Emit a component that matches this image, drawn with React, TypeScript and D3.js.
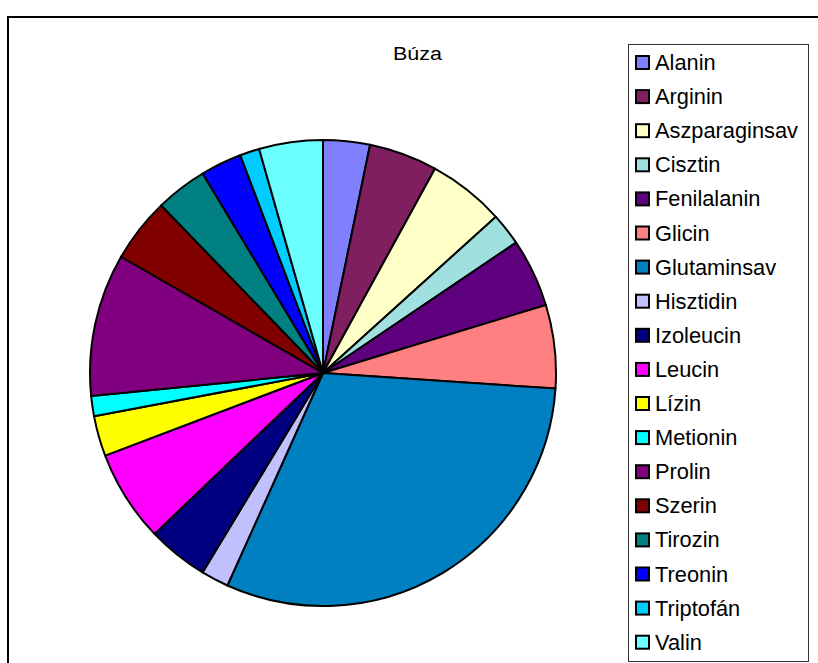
import { useEffect, useRef } from 'react';
import * as d3 from 'd3';

const title = 'Búza';

const categories = [
  'Alanin', 'Arginin', 'Aszparaginsav', 'Cisztin', 'Fenilalanin', 'Glicin',
  'Glutaminsav', 'Hisztidin', 'Izoleucin', 'Leucin', 'Lízin', 'Metionin',
  'Prolin', 'Szerin', 'Tirozin', 'Treonin', 'Triptofán', 'Valin',
];

// share of the wheat protein
const values = [
  3.24, 4.74, 5.33, 2.24, 4.74, 5.78,
  30.67, 1.92, 4.22, 6.36, 2.81, 1.39,
  9.89, 4.47, 3.58, 2.86, 1.36, 4.42,
];

const colors = [
  '#8080ff', '#7f1f5f', '#ffffc8', '#a0e0e0', '#5f007f', '#ff8080',
  '#0080c0', '#c0c0ff', '#000080', '#ff00ff', '#ffff00', '#00ffff',
  '#800080', '#800000', '#008080', '#0000ff', '#00ccff', '#6cffff',
];

export default function App() {
  const svgRef = useRef<SVGSVGElement>(null);

  useEffect(() => {
    if (!svgRef.current) return;
    const svg = d3.select(svgRef.current);
    svg.selectAll('*').remove();

    const width = 818;
    const height = 663;
    const cx = 323;
    const cy = 373;
    const radius = 233;

    // outer chart frame
    svg.append('rect')
      .attr('x', 8)
      .attr('y', 17)
      .attr('width', width)
      .attr('height', height)
      .attr('fill', 'none')
      .attr('stroke', '#000')
      .attr('stroke-width', 2);

    svg.append('text')
      .attr('x', 417.5)
      .attr('y', 59.5)
      .attr('text-anchor', 'middle')
      .attr('font-family', 'Liberation Sans, Arial, sans-serif')
      .attr('font-size', 18)
      .attr('textLength', 49)
      .attr('lengthAdjust', 'spacingAndGlyphs')
      .text(title);

    const data = categories.map((name, i) => ({ name, value: values[i], color: colors[i] }));

    const pie = d3.pie<{ name: string; value: number; color: string }>()
      .sort(null)
      .value((d) => d.value);

    const arc = d3.arc<d3.PieArcDatum<{ name: string; value: number; color: string }>>()
      .innerRadius(0)
      .outerRadius(radius);

    const g = svg.append('g').attr('transform', `translate(${cx},${cy})`);

    g.selectAll('path')
      .data(pie(data))
      .join('path')
      .attr('d', arc)
      .attr('fill', (d) => d.data.color)
      .attr('stroke', '#000')
      .attr('stroke-width', 2)
      .attr('stroke-linejoin', 'round');

    // legend
    const legendX = 628;
    const legendY = 44;
    const legendW = 180;
    const legendH = 617;
    const row = d3.scaleLinear().domain([0, 1]).range([62.5, 96.6]);

    svg.append('rect')
      .attr('x', legendX + 0.5)
      .attr('y', legendY + 0.5)
      .attr('width', legendW)
      .attr('height', legendH)
      .attr('fill', '#fff')
      .attr('stroke', '#333')
      .attr('stroke-width', 1);

    const items = svg.append('g')
      .selectAll('g')
      .data(data)
      .join('g')
      .attr('transform', (_, i) => `translate(0,${row(i)})`);

    items.append('rect')
      .attr('x', 636)
      .attr('y', -6.5)
      .attr('width', 13)
      .attr('height', 13)
      .attr('fill', (d) => d.color)
      .attr('stroke', '#000')
      .attr('stroke-width', 2);

    items.append('text')
      .attr('x', 655)
      .attr('y', 7.5)
      .attr('font-family', 'Liberation Sans, Arial, sans-serif')
      .attr('font-size', 21.8)
      .attr('fill', '#000')
      .text((d) => d.name);
  }, []);

  return (
    <svg
      ref={svgRef}
      width={818}
      height={663}
      style={{ position: 'absolute', left: 0, top: 0, background: '#fff' }}
    />
  );
}
